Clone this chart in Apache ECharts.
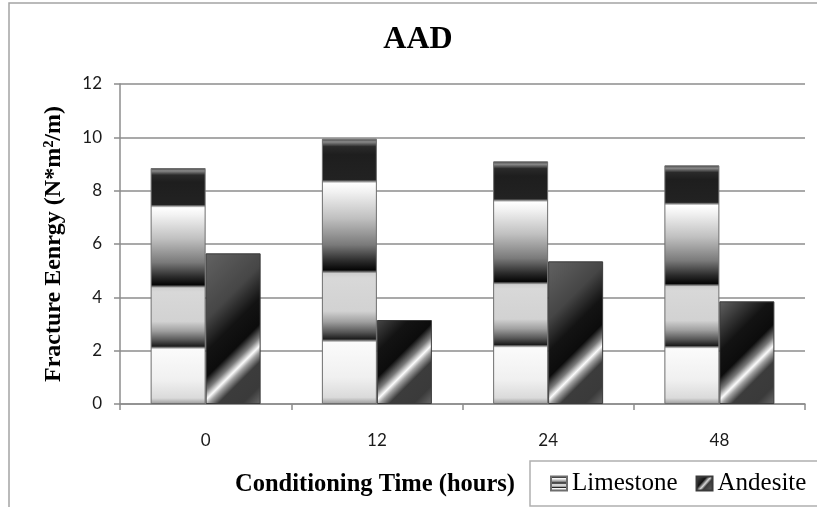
<!DOCTYPE html>
<html>
<head>
<meta charset="utf-8">
<title>AAD</title>
<script src="https://cdn.jsdelivr.net/npm/echarts@6/dist/echarts.min.js"></script>
<style>
  html, body { margin: 0; padding: 0; background: #ffffff; }
  #chart { width: 817px; height: 507px; }
</style>
</head>
<body>
<div id="chart"></div>
<script>
// Conditioning time categories (hours)
const categories = ['0', '12', '24', '48'];
// Fracture energy, N*m²/m
const limestone = [8.85, 9.95, 9.1, 8.95];
const andesite = [5.65, 3.15, 5.35, 3.85];
// Value axis range and step
const yMin = 0;
const yMax = 12;
const yStep = 2;

const GRID = { left: 120, right: 12, top: 84, bottom: 103 };
const PLOT_H = 507 - GRID.top - GRID.bottom;
const BAR_W = 55;
const SERIF = '"Liberation Serif", "Times New Roman", serif';

// Banded "bevel" look of the limestone bars (vertical, relative to each bar)
const limestoneFill = new echarts.graphic.LinearGradient(0, 0, 0, 1, [
  { offset: 0.000, color: '#3a3a3a' },
  { offset: 0.012, color: '#8a8a8a' },
  { offset: 0.030, color: '#2a2a2a' },
  { offset: 0.060, color: '#1e1e1e' },
  { offset: 0.155, color: '#222222' },
  { offset: 0.168, color: '#ffffff' },
  { offset: 0.200, color: '#f2f2f2' },
  { offset: 0.300, color: '#c0c0c0' },
  { offset: 0.400, color: '#7a7a7a' },
  { offset: 0.460, color: '#2c2c2c' },
  { offset: 0.495, color: '#050505' },
  { offset: 0.508, color: '#cfcfcf' },
  { offset: 0.525, color: '#d8d8d8' },
  { offset: 0.650, color: '#d2d2d2' },
  { offset: 0.690, color: '#a0a0a0' },
  { offset: 0.730, color: '#555555' },
  { offset: 0.755, color: '#1c1c1c' },
  { offset: 0.768, color: '#fbfbfb' },
  { offset: 0.900, color: '#f0f0f0' },
  { offset: 0.975, color: '#dadada' },
  { offset: 1.000, color: '#9a9a9a' }
]);

// Diagonal sheen of the andesite bars: 45° in pixel space, anchored at the bar foot
function andesiteFill(v) {
  const w = BAR_W;
  const h = (v - yMin) / (yMax - yMin) * PLOT_H;
  const S = w + h;
  const a = S / 2;
  const s0 = h - 4;
  let last = 0;
  const stop = (s, c) => {
    let o = Math.min(1, Math.max(0, s / S));
    if (o < last) o = last;
    last = o;
    return { offset: o, color: c };
  };
  return new echarts.graphic.LinearGradient(0, 0, a / w, a / h, [
    stop(0, '#626262'),
    stop(s0 - 80, '#464646'),
    stop(s0 - 48, '#131313'),
    stop(s0 - 22, '#0c0c0c'),
    stop(s0 - 9, '#7a7a7a'),
    stop(s0, '#fcfcfc'),
    stop(s0 + 6, '#a0a0a0'),
    stop(s0 + 16, '#3c3c3c'),
    stop(s0 + 40, '#3a3a3a'),
    stop(S, '#6a6a6a')
  ]);
}

const andesiteLegendFill = new echarts.graphic.LinearGradient(0, 0, 1, 1, [
  { offset: 0, color: '#5a5a5a' },
  { offset: 0.38, color: '#111111' },
  { offset: 0.52, color: '#d8d8d8' },
  { offset: 0.62, color: '#3a3a3a' },
  { offset: 1, color: '#666666' }
]);

const chart = echarts.init(document.getElementById('chart'), null, { renderer: 'canvas' });

chart.setOption({
  animation: false,
  backgroundColor: '#ffffff',
  grid: { left: GRID.left, right: GRID.right, top: GRID.top, bottom: GRID.bottom },
  graphic: [
    {
      type: 'rect',
      z: -10,
      shape: { x: 9, y: 3, width: 900, height: 600 },
      style: { fill: 'none', stroke: '#a4a4a4', lineWidth: 1.5 }
    },
    {
      type: 'text',
      x: 418, y: 40,
      style: {
        text: 'AAD',
        font: 'bold 32px ' + SERIF,
        fill: '#000000',
        align: 'center',
        verticalAlign: 'middle'
      }
    },
    {
      type: 'text',
      x: 375, y: 485,
      style: {
        text: 'Conditioning Time (hours)',
        font: 'bold 24.5px ' + SERIF,
        fill: '#000000',
        align: 'center',
        verticalAlign: 'middle'
      }
    }
  ],
  legend: {
    left: 530,
    top: 461,
    width: 300,
    padding: [10, 30, 10, 20],
    itemGap: 18,
    itemWidth: 16,
    itemHeight: 14,
    icon: 'rect',
    borderColor: '#b0b0b0',
    borderWidth: 1.5,
    textStyle: { fontFamily: SERIF, fontSize: 25, color: '#000000' },
    data: ['Limestone', 'Andesite']
  },
  xAxis: {
    type: 'category',
    data: categories,
    axisLine: { show: true, lineStyle: { color: '#8c8c8c', width: 1.5 } },
    axisTick: { show: true, length: 6, lineStyle: { color: '#8c8c8c', width: 1.5 } },
    axisLabel: { fontFamily: 'Lato', fontSize: 17, color: '#1a1a1a', margin: 28 }
  },
  yAxis: {
    type: 'value',
    min: yMin,
    max: yMax,
    interval: yStep,
    name: 'Fracture Eenrgy (N*m²/m)',
    nameLocation: 'middle',
    nameGap: 54,
    nameTextStyle: { fontFamily: SERIF, fontSize: 24, fontWeight: 'bold', color: '#000000' },
    axisLine: { show: true, lineStyle: { color: '#8c8c8c', width: 1.5 } },
    axisTick: { show: true, length: 6, lineStyle: { color: '#8c8c8c', width: 1.5 } },
    splitLine: { show: true, lineStyle: { color: '#8c8c8c', width: 1.5 } },
    axisLabel: { fontFamily: 'Lato', fontSize: 17, color: '#1a1a1a', margin: 18 }
  },
  series: [
    {
      name: 'Limestone',
      type: 'bar',
      barWidth: BAR_W,
      barGap: '0%',
      data: limestone,
      itemStyle: { color: limestoneFill, borderColor: '#6e6e6e', borderWidth: 1 }
    },
    {
      name: 'Andesite',
      type: 'bar',
      barWidth: BAR_W,
      barGap: '0%',
      data: andesite.map(v => ({ value: v, itemStyle: { color: andesiteFill(v) } })),
      itemStyle: { color: andesiteLegendFill, borderColor: '#3a3a3a', borderWidth: 1 }
    }
  ]
});
</script>
</body>
</html>
